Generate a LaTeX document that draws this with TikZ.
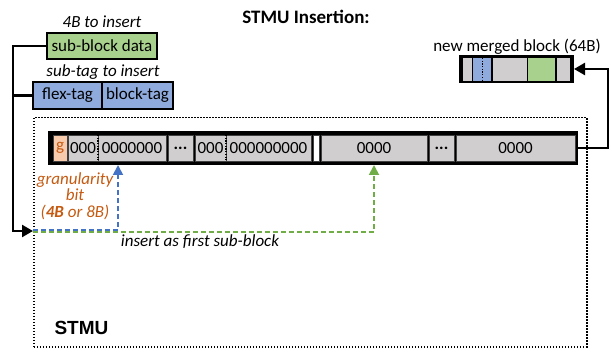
\documentclass[tikz,border=0pt]{standalone}
\usepackage{fontspec}
\setmainfont{Carlito}
\newfontfamily\arialf{Liberation Sans}
\usetikzlibrary{arrows.meta,calc}
\definecolor{cgray}{HTML}{D0CECE}
\definecolor{sbgreen}{HTML}{A9D18E}
\definecolor{stblue}{HTML}{8FAADC}
\definecolor{peach}{HTML}{F8CBAD}
\definecolor{orng}{HTML}{C55A11}
\definecolor{dblue}{HTML}{4472C4}
\definecolor{dgreen}{HTML}{70AD47}
\newcommand{\fsz}[1]{\fontsize{#1}{#1}\selectfont}
\begin{document}
\begin{tikzpicture}[x=1pt,y=-1pt,
  box/.style={draw=black,line width=1.8pt,inner sep=0pt,outer sep=0pt,anchor=north west,font=\fsz{17}},
  itlabel/.style={font=\fsz{17}\itshape},
  cell/.style={fill=cgray,draw=black!75,line width=0.6pt,inner sep=0pt,outer sep=0pt,anchor=north west,minimum height=26pt,font=\fsz{17}},
  mcell/.style={fill=cgray,inner sep=0pt,outer sep=0pt,anchor=north west,minimum height=23pt},
  blk/.style={fill=black,inner sep=0pt,outer sep=0pt,anchor=north west},
  conn/.style={draw=black,line width=2.4pt},
  tip/.style={-{Triangle[length=11pt,width=12pt]}},
  dsh/.style={line width=1.8pt,dash pattern=on 5pt off 3pt},
  divl/.style={line width=1.2pt,dash pattern=on 1.2pt off 1.5pt}
]
\useasboundingbox (0,0) rectangle (612,352);

% title
\node[font=\fsz{19}\bfseries] (title) at (306,17) {STMU Insertion:};

% inputs
\node[itlabel] (lbl4b) at (102,22) {4B to insert};
\node[box,fill=sbgreen,minimum width=110pt,minimum height=26pt] (sbd) at (47,33) {sub-block data};
\node[itlabel] (lblst) at (103,72) {sub-tag to insert};
\node[box,fill=stblue,minimum width=69pt,minimum height=27pt] (flex) at (33,82) {flex-tag};
\node[box,fill=stblue,minimum width=71pt,minimum height=27pt] (btag) at (102,82) {block-tag};

% STMU region
\node[draw=black,line width=1.5pt,dash pattern=on 1.5pt off 1.5pt,anchor=north west,inner sep=0pt,
      minimum width=553pt,minimum height=229pt] (stmu) at (33,117) {};
\node[font=\arialf\bfseries\fsz{19},anchor=west] (stmulbl) at (51,328) {STMU};

% big block
\node[blk,minimum width=530pt,minimum height=34pt] (bg) at (48,131) {};
\node[cell,fill=peach,text=orng,minimum width=14pt] (g) at (53,135) {g};
\node[cell,minimum width=30pt] (c1a) at (68,135) {000};
\node[cell,minimum width=68pt] (c1b) at (98,135) {0000000};
\node[cell,minimum width=25pt] (d1) at (168,135) {\textbf{...}};
\node[cell,minimum width=31pt] (c2a) at (195,135) {000};
\node[cell,minimum width=85pt] (c2b) at (226,135) {000000000};
\node[cell,fill=white,minimum width=6pt] (wh) at (313,135) {};
\node[cell,minimum width=106pt] (c3) at (321,135) {0000};
\node[cell,minimum width=25pt] (d2) at (429,135) {\textbf{...}};
\node[cell,minimum width=119pt] (c4) at (456,135) {0000};
\draw[divl] (c1a.north east) -- (c1a.south east);
\draw[divl] (c2a.north east) -- (c2a.south east);

% merged block
\node[font=\fsz{17}] (lblm) at (517,47) {new merged block (64B)};
\node[blk,minimum width=115pt,minimum height=28pt] (bgm) at (459,55) {};
\node[mcell,minimum width=9pt] (m1) at (463,58) {};
\node[mcell,fill=stblue,minimum width=9pt] (m2a) at (473,58) {};
\node[mcell,fill=stblue,minimum width=9pt] (m2b) at (482,58) {};
\node[mcell,minimum width=34pt] (m3) at (493,58) {};
\node[mcell,fill=sbgreen,minimum width=27pt] (m4) at (528,58) {};
\node[mcell,minimum width=13pt] (m5) at (557,58) {};
\draw[divl,line width=1pt] (m2a.north east) -- (m2a.south east);

% labels
\node[itlabel,text=orng,align=center,font=\fontsize{17}{16.5}\selectfont\itshape] (gran) at (75,196)
  {granularity\\bit\\(\textbf{4B} or 8B)};
\node[itlabel] (lblins) at (200,242) {insert as first sub-block};

% connectors
\coordinate (entry) at (33,231);
\coordinate (entryB) at (33,230);
\coordinate (entryG) at (33,232);
\coordinate (tgtB) at (118,165);
\draw[conn] (flex.west) -- ++(-20,0);
\draw[conn,tip] (sbd.west) -- ++(-34,0) |- (entry);
\draw[dsh,draw=dgreen,-{Triangle[length=10pt,width=10pt]},dgreen] (entryG) -| (c3.south |- bg.south);
\draw[dsh,draw=dblue,-{Triangle[length=10pt,width=10pt]},dblue] (entryB) -| (tgtB);
\draw[conn,tip] (bg.east) -- (608,148) |- (bgm.east);
\end{tikzpicture}
\end{document}
